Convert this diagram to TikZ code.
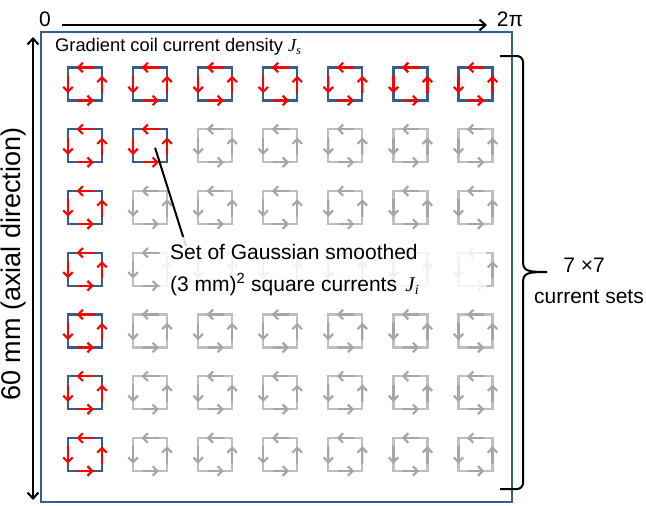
\documentclass[tikz,border=0pt]{standalone}
\usepackage{fontspec}
\setmainfont{Liberation Sans}
\newfontfamily\tnr{Liberation Serif}
\usetikzlibrary{arrows.meta,calc}
\definecolor{sqblue}{HTML}{385D8A}
\definecolor{sqgrey}{HTML}{BFBFBF}
\definecolor{argrey}{HTML}{A6A6A6}
\begin{document}
\begin{tikzpicture}[x=1pt,y=-1pt,
  sq/.style={draw=#1, line width=2.2pt, minimum width=34pt, minimum height=33pt, inner sep=0pt, outer sep=0pt},
  cur/.style={draw=#1, line width=2.2pt, -{Straight Barb[length=4.8pt,width=9.5pt]}},
  ax/.style={line width=2pt, -{Straight Barb[length=6pt,width=11pt]}},
  lab/.style={font=\fontsize{20}{24}\selectfont, inner sep=0pt},
  frame/.style={draw=sqblue, line width=2pt}]
\useasboundingbox (0,0) rectangle (646,506);
% outer frame
\node[frame, anchor=north west, minimum width=471pt, minimum height=470pt, inner sep=0pt, outer sep=0pt] (fr) at (41,32) {};
% squares
\foreach \r in {1,...,7}{
  \foreach \c in {1,...,7}{
    \pgfmathtruncatemacro\isred{(\r==1)||(\c==1)||(\r==2&&\c==2)}
    \ifnum\isred=1 \def\sqc{sqblue}\def\arc{red}\else\def\sqc{sqgrey}\def\arc{argrey}\fi
    \node[sq=\sqc] (s\r\c) at ({85+65.08*(\c-1)},{84+61.75*(\r-1)}) {};
    \draw[cur=\arc] ($(s\r\c.north west)!0.75!(s\r\c.north east)$) -- ($(s\r\c.north west)!0.25!(s\r\c.north east)$);
    \draw[cur=\arc] ($(s\r\c.north west)!0.25!(s\r\c.south west)$) -- ($(s\r\c.north west)!0.78!(s\r\c.south west)$);
    \draw[cur=\arc] ($(s\r\c.south west)!0.28!(s\r\c.south east)$) -- ($(s\r\c.south west)!0.76!(s\r\c.south east)$);
    \draw[cur=\arc] ($(s\r\c.south east)!0.22!(s\r\c.north east)$) -- ($(s\r\c.south east)!0.75!(s\r\c.north east)$);
  }
}
% pointer line
\coordinate (pend) at (186,246);
\draw[line width=2pt] ($(s22.center)+(5,2)$) -- (pend);
% semi-transparent text box
\node[fill=white, fill opacity=0.85, minimum width=326pt, minimum height=65pt, anchor=north west, inner sep=0pt] (tbox) at (160,237) {};
\node[lab, font=\fontsize{21}{25}\selectfont, anchor=base west] (t1) at (170,259) {Set of Gaussian smoothed};
\node[lab, font=\fontsize{21}{25}\selectfont, anchor=base west] (t2) at (170,291) {(3 mm)\textsuperscript{2} square currents\hspace{0.4em}{\tnr\itshape J}\raisebox{-0.35ex}{\tnr\itshape\fontsize{14}{16}\selectfont i}};
% title
\node[lab, font=\fontsize{18.3}{22}\selectfont, anchor=base west] (title) at (55,51) {Gradient coil current density {\tnr\itshape J}\raisebox{-0.35ex}{\tnr\itshape\fontsize{12.5}{14}\selectfont s}};
% axes
\node[lab, font=\fontsize{21}{25}\selectfont, anchor=base] (zero) at (45,27) {0};
\node[lab, font=\fontsize{21}{25}\selectfont, anchor=base] (twopi) at (510,27) {2π};
\coordinate (ha) at (62,25);
\coordinate (hb) at (487,25);
\draw[ax] (ha) -- (hb);
\coordinate (va) at (33,37);
\coordinate (vb) at (33,500);
\draw[ax, {Straight Barb[length=6pt,width=11pt]}-{Straight Barb[length=6pt,width=11pt]}] (va) -- (vb);
\node[lab, font=\fontsize{27}{31}\selectfont, rotate=90] (axial) at (14,264) {60 mm (axial direction)};
% brace
\coordinate (b1) at (500,56);
\coordinate (b2) at (523,56);
\coordinate (bm) at (547,272);
\coordinate (b3) at (523,489);
\coordinate (b4) at (500,489);
\draw[line width=2pt, rounded corners=6pt] (b1) -- (b2) -- (523,262);
\draw[line width=2pt] (523,261) .. controls (523,271) and (527,272) .. (bm);
\draw[line width=2pt] (bm) .. controls (527,272) and (523,273) .. (523,283);
\draw[line width=2pt, rounded corners=6pt] (523,282) -- (b3) -- (b4);
% brace labels
\node[lab, font=\fontsize{21}{25}\selectfont, anchor=base] (n77) at (584,272) {7 ×7};
\node[lab, font=\fontsize{21}{25}\selectfont, anchor=base] (cs) at (589,303) {current sets};
\end{tikzpicture}
\end{document}
